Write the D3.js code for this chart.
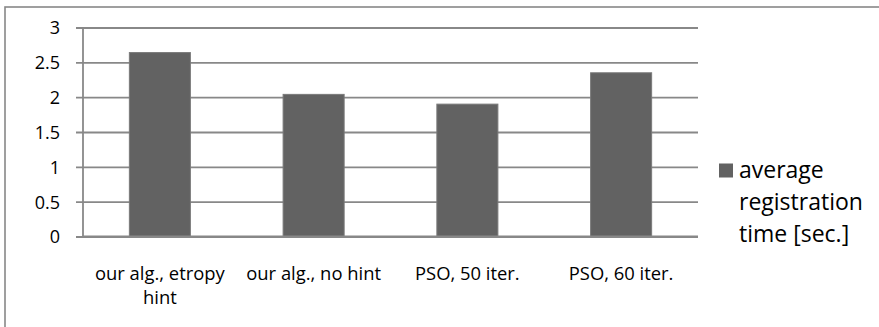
<!DOCTYPE html>
<html>
<head>
<meta charset="utf-8">
<script src="https://cdn.jsdelivr.net/npm/d3@7"></script>
<style>
  html, body { margin: 0; padding: 0; background: #fff; }
  svg { display: block; }
  text { font-family: "Open Sans", Lato, sans-serif; fill: #000; }
</style>
</head>
<body>
<svg id="chart" width="879" height="327"></svg>
<script>
// Average registration time per method
const categories = ["our alg., etropy hint", "our alg., no hint", "PSO, 50 iter.", "PSO, 60 iter."];
const seriesName = "average registration time [sec.]";
const values = [2.64, 2.04, 1.90, 2.35];
const yTicks = [0, 0.5, 1, 1.5, 2, 2.5, 3];

const W = 879, H = 327;
const plot = { left: 83, right: 698, top: 27.5, bottom: 236.5 };
const gridColor = "#888888";
const barColor = "#626262";

const svg = d3.select("#chart");

// chart area border (runs off the right and bottom edges)
svg.append("rect")
  .attr("x", 5).attr("y", 7)
  .attr("width", W + 20).attr("height", H + 20)
  .attr("fill", "none")
  .attr("stroke", gridColor)
  .attr("stroke-width", 1.6);

const y = d3.scaleLinear().domain([0, 3]).range([plot.bottom, plot.top]);
const x = d3.scaleBand()
  .domain(categories)
  .range([plot.left, plot.right])
  .paddingInner(0.603)
  .paddingOuter(0.3015);

// horizontal gridlines with tick marks, labels on the left
const yAxis = d3.axisLeft(y)
  .tickValues(yTicks)
  .tickFormat(d3.format("~g"))
  .tickSize(-(plot.right - plot.left))
  .tickSizeOuter(0)
  .tickPadding(23);

const gy = svg.append("g")
  .attr("transform", `translate(${plot.left},0)`)
  .call(yAxis);
gy.select(".domain").remove();
gy.selectAll(".tick line")
  .attr("x1", -7)
  .attr("stroke", gridColor)
  .attr("stroke-width", 1.8);
gy.selectAll(".tick text")
  .attr("font-size", 18)
  .attr("fill", "#000")
  .attr("dy", "0.36em");

// vertical axis line
svg.append("line")
  .attr("x1", plot.left).attr("x2", plot.left)
  .attr("y1", plot.top).attr("y2", plot.bottom)
  .attr("stroke", gridColor)
  .attr("stroke-width", 1.8);

// bars
svg.append("g")
  .selectAll("rect")
  .data(values)
  .join("rect")
  .attr("x", (d, i) => x(categories[i]))
  .attr("y", d => y(d))
  .attr("width", x.bandwidth())
  .attr("height", d => y(0) - y(d))
  .attr("fill", barColor)
  .attr("stroke", "#7a7a7a")
  .attr("stroke-width", 1);

// horizontal axis line on top of bars
svg.append("line")
  .attr("x1", plot.left).attr("x2", plot.right)
  .attr("y1", y(0)).attr("y2", y(0))
  .attr("stroke", gridColor)
  .attr("stroke-width", 1.8);

// word-wrap a label into lines no wider than maxW
function wrapLines(str, size, maxW) {
  const probe = svg.append("text").attr("font-size", size);
  const words = str.split(" ");
  const lines = [];
  let cur = "";
  for (const w of words) {
    const test = cur ? cur + " " + w : w;
    probe.text(test);
    if (cur && probe.node().getComputedTextLength() > maxW) {
      lines.push(cur);
      cur = w;
    } else {
      cur = test;
    }
  }
  if (cur) lines.push(cur);
  probe.remove();
  return lines;
}

// category labels
const catSize = 18.4, catLead = 24.7;
const gx = svg.append("g");
categories.forEach(c => {
  const lines = wrapLines(c, catSize, x.step());
  const t = gx.append("text")
    .attr("x", x(c) + x.bandwidth() / 2)
    .attr("y", 279.5)
    .attr("font-size", catSize)
    .attr("text-anchor", "middle");
  lines.forEach((ln, i) => {
    t.append("tspan")
      .attr("x", x(c) + x.bandwidth() / 2)
      .attr("dy", i === 0 ? 0 : catLead)
      .text(ln);
  });
});

// legend
const legSize = 23, legLead = 31.7;
const leg = svg.append("g");
leg.append("rect")
  .attr("x", 719).attr("y", 163.5)
  .attr("width", 14).attr("height", 14)
  .attr("fill", barColor);
const legLines = wrapLines(seriesName, legSize, 132);
const lt = leg.append("text")
  .attr("x", 739).attr("y", 178.3)
  .attr("font-size", legSize);
legLines.forEach((ln, i) => {
  lt.append("tspan")
    .attr("x", 739)
    .attr("dy", i === 0 ? 0 : legLead)
    .text(ln);
});
</script>
</body>
</html>
